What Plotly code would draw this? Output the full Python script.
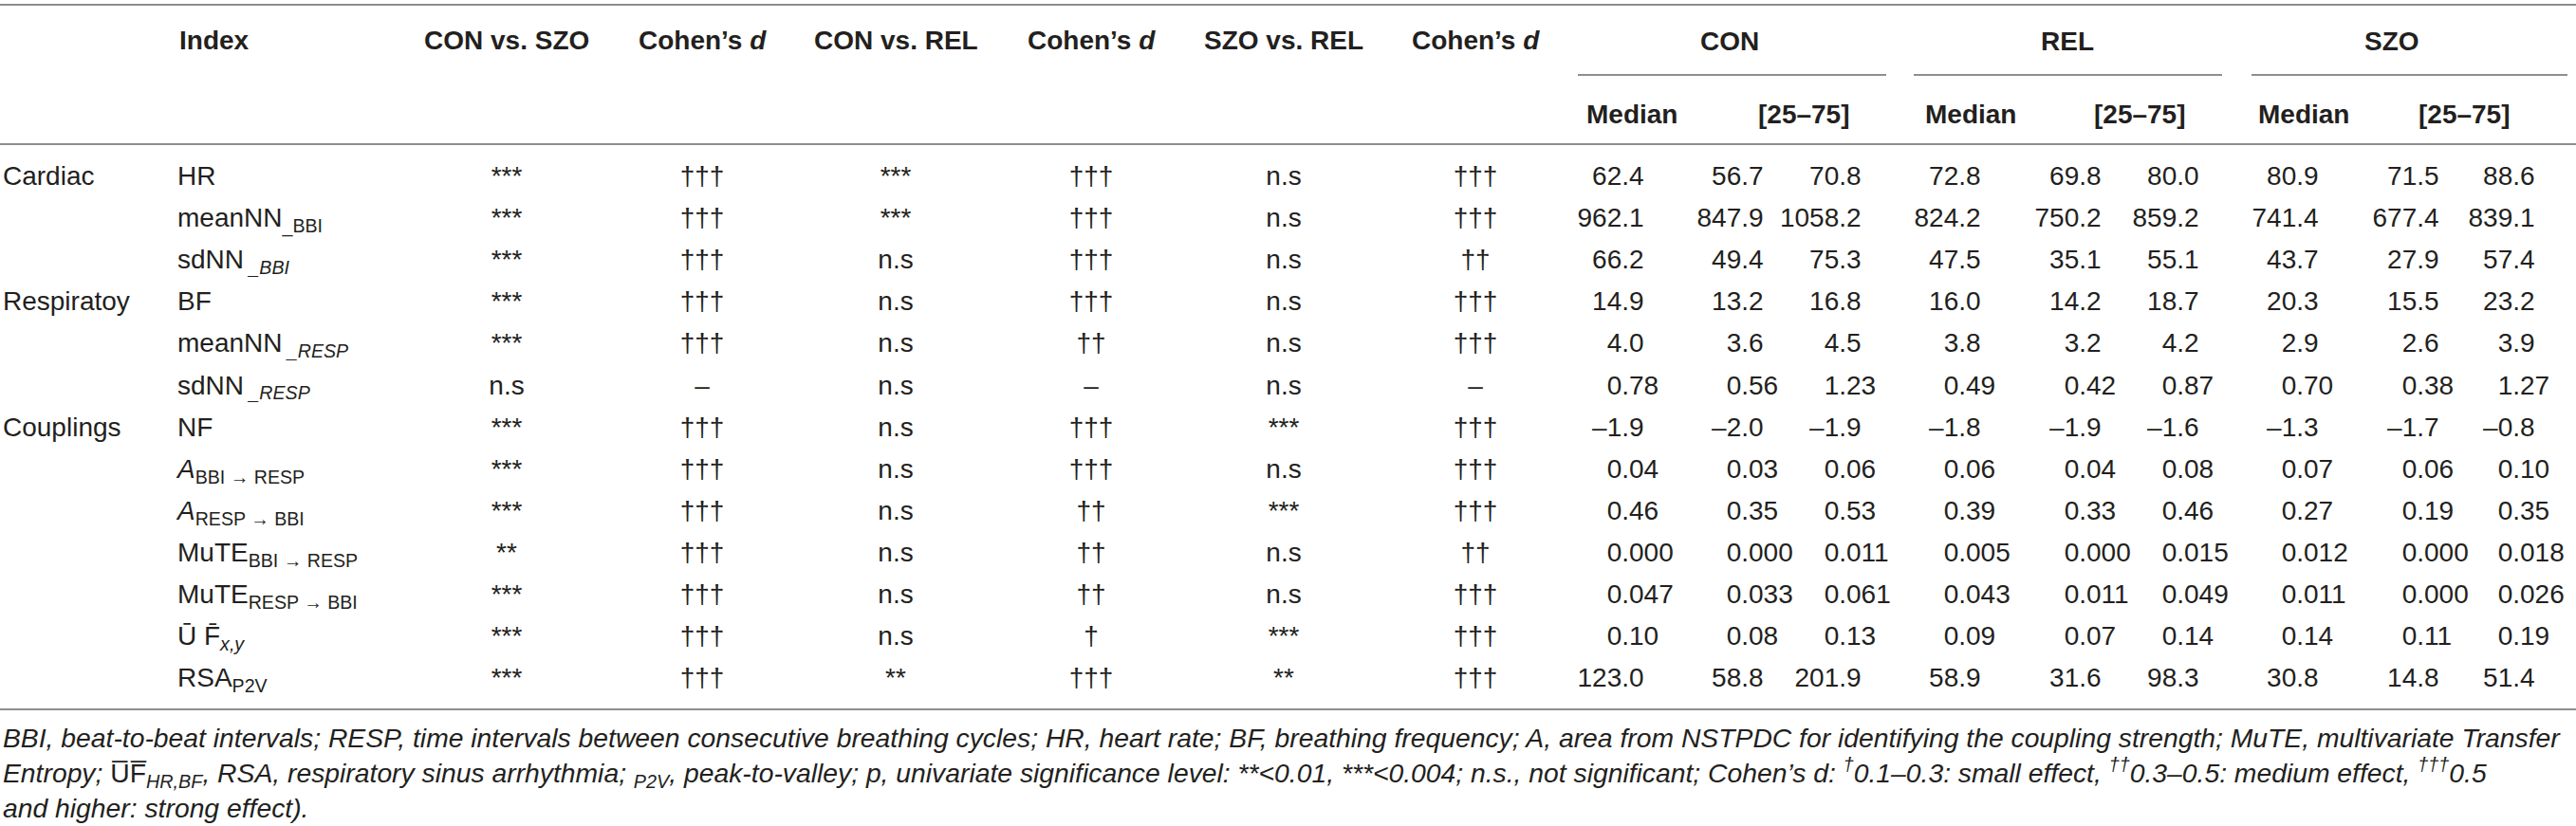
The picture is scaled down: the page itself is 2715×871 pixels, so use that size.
import plotly.graph_objects as go

### Table contents

groups = ["Cardiac", "", "", "Respiratoy", "", "", "Couplings", "", "", "", "", "", ""]

indices = [
    "HR",
    "meanNN<sub>_BBI</sub>",
    "sdNN<sub><i> _BBI</i></sub>",
    "BF",
    "meanNN<sub><i> _RESP</i></sub>",
    "sdNN<sub><i> _RESP</i></sub>",
    "NF",
    "<i>A</i><sub>BBI → RESP</sub>",
    "<i>A</i><sub>RESP → BBI</sub>",
    "MuTE<sub>BBI → RESP</sub>",
    "MuTE<sub>RESP → BBI</sub>",
    "Ū F̄<sub><i>x,y</i></sub>",
    "RSA<sub>P2V</sub>",
]

con_vs_szo = ["***", "***", "***", "***", "***", "n.s", "***", "***", "***", "**", "***", "***", "***"]
d_con_szo = ["†††", "†††", "†††", "†††", "†††", "–", "†††", "†††", "†††", "†††", "†††", "†††", "†††"]
con_vs_rel = ["***", "***", "n.s", "n.s", "n.s", "n.s", "n.s", "n.s", "n.s", "n.s", "n.s", "n.s", "**"]
d_con_rel = ["†††", "†††", "†††", "†††", "††", "–", "†††", "†††", "††", "††", "††", "†", "†††"]
szo_vs_rel = ["n.s", "n.s", "n.s", "n.s", "n.s", "n.s", "***", "n.s", "***", "n.s", "n.s", "***", "**"]
d_szo_rel = ["†††", "†††", "††", "†††", "†††", "–", "†††", "†††", "†††", "††", "†††", "†††", "†††"]

con_med = ["62.4", "962.1", "66.2", "14.9", "4.0", "0.78", "–1.9", "0.04", "0.46", "0.000", "0.047", "0.10", "123.0"]
con_q25 = ["56.7", "847.9", "49.4", "13.2", "3.6", "0.56", "–2.0", "0.03", "0.35", "0.000", "0.033", "0.08", "58.8"]
con_q75 = ["70.8", "1058.2", "75.3", "16.8", "4.5", "1.23", "–1.9", "0.06", "0.53", "0.011", "0.061", "0.13", "201.9"]
rel_med = ["72.8", "824.2", "47.5", "16.0", "3.8", "0.49", "–1.8", "0.06", "0.39", "0.005", "0.043", "0.09", "58.9"]
rel_q25 = ["69.8", "750.2", "35.1", "14.2", "3.2", "0.42", "–1.9", "0.04", "0.33", "0.000", "0.011", "0.07", "31.6"]
rel_q75 = ["80.0", "859.2", "55.1", "18.7", "4.2", "0.87", "–1.6", "0.08", "0.46", "0.015", "0.049", "0.14", "98.3"]
szo_med = ["80.9", "741.4", "43.7", "20.3", "2.9", "0.70", "–1.3", "0.07", "0.27", "0.012", "0.011", "0.14", "30.8"]
szo_q25 = ["71.5", "677.4", "27.9", "15.5", "2.6", "0.38", "–1.7", "0.06", "0.19", "0.000", "0.000", "0.11", "14.8"]
szo_q75 = ["88.6", "839.1", "57.4", "23.2", "3.9", "1.27", "–0.8", "0.10", "0.35", "0.018", "0.026", "0.19", "51.4"]

sig_headers = ["CON vs. SZO", "Cohen’s <i>d</i>", "CON vs. REL", "Cohen’s <i>d</i>",
               "SZO vs. REL", "Cohen’s <i>d</i>"]
group_headers = ["CON", "REL", "SZO"]
sub_headers = ["Median", "[25–75]"]

footnote = [
    "<i>BBI, beat-to-beat intervals; RESP, time intervals between consecutive breathing cycles; "
    "HR, heart rate; BF, breathing frequency; A, area from NSTPDC for identifying the coupling "
    "strength; MuTE, multivariate Transfer</i>",
    "<i>Entropy; </i>U̅F̅<sub><i>HR,BF</i></sub><i>, RSA, respiratory sinus arrhythmia; "
    "<sub>P2V</sub>, peak-to-valley; p, univariate significance level: **&lt;0.01, ***&lt;0.004; "
    "n.s., not significant; Cohen’s d: <sup>†</sup>0.1–0.3: small effect, "
    "<sup>††</sup>0.3–0.5: medium effect, <sup>†††</sup>0.5</i>",
    "<i>and higher: strong effect).</i>",
]

### Layout helpers

W, H = 2715, 871
txt_color = "#231f20"
rule_color = "#8e8e8e"
body_font = dict(family="Liberation Sans, Arial, sans-serif", size=28, color=txt_color)
head_font = dict(family="Liberation Sans, Arial, sans-serif", size=28, color=txt_color, weight="bold")
foot_font = dict(family="Liberation Sans, Arial, sans-serif", size=28.3, color=txt_color)

row_first = 188
row_step = 44.1
rows = [row_first + i * row_step for i in range(len(indices))]

sig_x = [534, 740, 944, 1150, 1353, 1555]
dec_x = [1717, 1843, 1946, 2072, 2199, 2302, 2428, 2555, 2656]


def text_col(x, texts, pos, ys=rows):
    return go.Scatter(x=[x] * len(texts), y=ys, text=texts, mode="text",
                      textposition=pos, textfont=body_font, cliponaxis=False,
                      hoverinfo="skip", showlegend=False)


# group labels only on the rows that start a group
g_rows = [y for y, g in zip(rows, groups) if g]
g_text = [g for g in groups if g]
traces = [text_col(3, g_text, "middle right", g_rows),
          text_col(187, indices, "middle right")]

for x, col in zip(sig_x, [con_vs_szo, d_con_szo, con_vs_rel, d_con_rel, szo_vs_rel, d_szo_rel]):
    traces.append(text_col(x, col, "middle center"))

num_cols = [con_med, con_q25, con_q75, rel_med, rel_q25, rel_q75, szo_med, szo_q25, szo_q75]
for x, col in zip(dec_x, num_cols):
    # decimal alignment: integer part to the left, fraction to the right
    ints = [v[:v.index(".") + 1] for v in col]
    fracs = [v[v.index(".") + 1:] for v in col]
    traces.append(text_col(x, ints, "middle left"))
    traces.append(text_col(x, fracs, "middle right"))

### Header annotations

annotations = [dict(text="Index", x=187, y=42, xanchor="left", font=head_font)]
for x, t in zip(sig_x, sig_headers):
    annotations.append(dict(text=t, x=x, y=42, xanchor="center", font=head_font))
for x, t in zip([1823, 2179, 2521], group_headers):
    annotations.append(dict(text=t, x=x, y=43, xanchor="center", font=head_font))
for xm, xq in zip([1720, 2077, 2428], [1901, 2255, 2597]):
    annotations.append(dict(text=sub_headers[0], x=xm, y=120, xanchor="center", font=head_font))
    annotations.append(dict(text=sub_headers[1], x=xq, y=120, xanchor="center", font=head_font))
annotations.append(dict(text="<br>".join(footnote), x=1, y=760, xanchor="left",
                        yanchor="top", align="left", font=foot_font))
for a in annotations:
    a.update(xref="x", yref="y", showarrow=False)
    a.setdefault("yanchor", "middle")

### Rules

shapes = []
for y in [5, 152, 748]:
    shapes.append(dict(type="line", x0=0, x1=W, y0=y, y1=y))
for x0, x1 in [(1663, 1988), (2017, 2342), (2373, 2706)]:
    shapes.append(dict(type="line", x0=x0, x1=x1, y0=79, y1=79))
for s in shapes:
    s.update(xref="x", yref="y", line=dict(color=rule_color, width=2))

layout = go.Layout(
    width=W, height=H,
    margin=dict(l=0, r=0, t=0, b=0),
    paper_bgcolor="white", plot_bgcolor="white",
    xaxis=dict(range=[0, W], visible=False, fixedrange=True),
    yaxis=dict(range=[H, 0], visible=False, fixedrange=True),
    annotations=annotations,
    shapes=shapes,
)

fig = go.Figure(data=traces, layout=layout)
# drop the default page margin so the figure fills the window exactly
fig.write_html("out.html", config={"displayModeBar": False},
               post_script="document.body.style.margin='0';"
                           "document.documentElement.style.overflow='hidden';")
